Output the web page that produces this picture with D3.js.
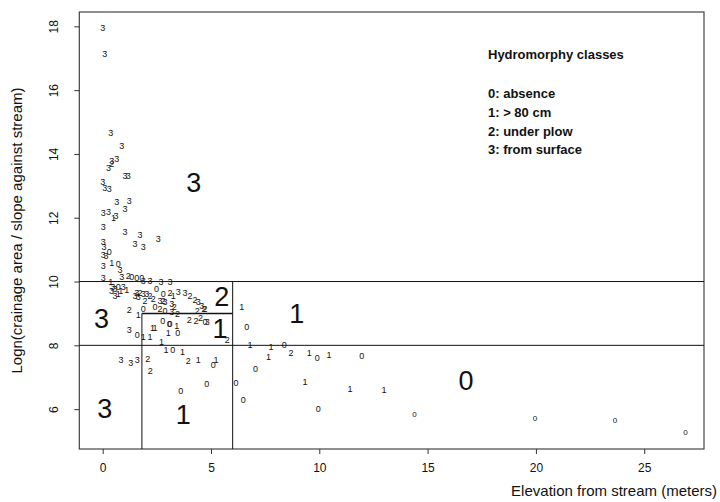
<!DOCTYPE html>
<html>
<head>
<meta charset="utf-8">
<script src="https://cdn.jsdelivr.net/npm/d3@7"></script>
<style>
  html, body { margin: 0; padding: 0; background: #fff; }
  svg { display: block; }
  text { font-family: "Liberation Sans", Arial, Helvetica, sans-serif; fill: #111; }
</style>
</head>
<body>
<svg id="chart" width="720" height="502"></svg>
<script>
// ---------- data ----------
const pointElev = [
  // class 3
  0.0,0.1,0.37,0.88,0.42,0.65,0.27,1.03,1.18,0.0,0.1,0.3,0.65,1.23,1.03,0.03,0.27,0.61,0.03,
  1.03,1.72,1.49,1.87,2.57,0.03,0.06,0.03,0.15,0.03,0.8,0.88,0.03,1.87,2.18,2.69,3.11,
  0.46,0.95,0.57,0.41,0.57,1.49,1.64,1.57,1.87,2.03,2.65,3.49,3.8,4.41,4.57,2.88,3.19,3.19,
  1.23,4.83,0.85,1.29,1.6,
  // class 0
  0.3,0.72,1.34,1.57,1.8,0.72,2.49,2.8,1.87,2.41,2.88,2.77,3.11,4.72,1.6,3.46,3.07,3.23,
  5.1,4.8,3.6,6.65,8.38,9.9,11.96,7.06,6.15,6.49,9.95,14.39,19.96,23.65,26.9,
  // class 1
  0.42,0.37,1.11,0.72,3.26,1.64,2.3,2.42,1.87,2.18,3.03,3.42,2.72,2.92,3.69,4.41,5.23,
  6.42,6.8,7.77,9.54,10.45,7.65,9.34,11.42,12.99,0.5,
  // class 2
  0.83,1.18,1.72,2.18,2.34,2.8,3.11,4.03,4.26,4.68,1.23,2.65,3.45,4.0,4.31,4.52,4.37,4.72,
  5.75,3.95,2.08,2.2,8.69,0.42,1.95,3.3
];
const pointLogRatio = [
  // class 3
  17.95,17.15,14.65,14.25,13.78,13.85,13.55,13.3,13.3,13.13,12.95,12.9,12.5,12.53,12.29,12.15,12.2,12.05,11.7,
  11.56,11.47,11.18,11.09,11.33,11.23,11.1,10.85,10.8,10.48,10.36,10.15,10.1,10.03,10.03,9.98,9.98,
  9.82,9.84,9.77,9.7,9.56,9.56,9.53,9.63,9.62,9.62,9.41,9.67,9.63,9.35,9.25,9.35,9.3,9.04,
  8.47,8.75,7.56,7.46,7.55,
  // class 0
  10.93,10.56,10.16,10.13,10.12,9.82,9.77,9.62,9.15,9.2,9.09,8.78,8.68,8.73,8.34,8.4,8.66,7.87,
  7.38,6.78,6.57,8.57,8.03,7.61,7.66,7.26,6.82,6.28,6.02,5.83,5.73,5.64,5.27,
  // class 1
  10.6,10.0,9.74,9.62,9.56,8.94,8.55,8.55,8.28,8.26,8.38,8.6,8.1,7.87,7.79,7.55,7.56,
  9.2,8.0,7.95,7.76,7.69,7.64,6.85,6.65,6.62,12.0,
  // class 2
  9.72,10.19,9.63,9.56,9.46,9.38,9.63,9.56,9.43,9.15,9.12,9.15,8.99,8.8,8.76,8.87,9.09,9.15,
  8.18,7.51,7.58,7.2,7.76,13.68,9.4,9.2
];
const pointClass = [
  3,3,3,3,3,3,3,3,3,3,3,3,3,3,3,3,3,3,3,
  3,3,3,3,3,3,3,3,3,3,3,3,3,3,3,3,3,
  3,3,3,3,3,3,3,3,3,3,3,3,3,3,3,3,3,3,
  3,3,3,3,3,
  0,0,0,0,0,0,0,0,0,0,0,0,0,0,0,0,0,0,
  0,0,0,0,0,0,0,0,0,0,0,0,0,0,0,
  1,1,1,1,1,1,1,1,1,1,1,1,1,1,1,1,1,
  1,1,1,1,1,1,1,1,1,1,1,
  2,2,2,2,2,2,2,2,2,2,2,2,2,2,2,2,2,2,
  2,2,2,2,2,2,2,2
];

// decision-tree partition (class labels of each region and the splits)
const regionLabel = ["3","2","1","1","3","3","1","0"];
const regionElev  = [4.2, 5.5, 5.42, 8.96, -0.05, 0.1, 3.72, 16.77];
const regionLog   = [13.1, 9.53, 8.53, 8.99, 8.85, 6.02, 5.83, 6.9];

const hSplitValue = [10, 8, 9];
const hSplitFrom  = [null, null, 1.81];   // null = full width
const hSplitTo    = [null, null, 6.0];
const vSplitValue = [1.81, 6.0];
const vSplitTop   = [9, 10];

const xTicks = [0, 5, 10, 15, 20, 25];
const yTicks = [6, 8, 10, 12, 14, 16, 18];

const legendTitle = "Hydromorphy classes";
const legendItems = ["0: absence", "1: > 80 cm", "2: under plow", "3: from surface"];

const xTitle = "Elevation from stream (meters)";
const yTitle = "Logn(crainage area / slope against stream)";

// ---------- drawing ----------
const svg = d3.select("#chart");
const pLeft = 79.3, pRight = 704, pTop = 12, pBottom = 449;

const x = d3.scaleLinear().domain([-1.08, 27.76]).range([pLeft, pRight]);
const y = d3.scaleLinear().domain([4.75, 18.45]).range([pBottom, pTop]);

const ink = "#111";

// box
svg.append("rect")
  .attr("x", pLeft).attr("y", pTop)
  .attr("width", pRight - pLeft).attr("height", pBottom - pTop)
  .attr("fill", "none").attr("stroke", "#333").attr("stroke-width", 1.1);

// axes (R style: outward ticks, labels parallel to axis)
const xAxis = d3.axisBottom(x).tickValues(xTicks).tickSize(5).tickPadding(9).tickFormat(d3.format("d"));
const gx = svg.append("g").attr("transform", `translate(0,${pBottom})`).call(xAxis);
gx.select(".domain").remove();
gx.selectAll("line").attr("stroke", "#333");
gx.selectAll("text").attr("font-size", 12).attr("fill", "#333")
  .style("font-family", "'Liberation Sans', Arial, sans-serif");

const yAxis = d3.axisLeft(y).tickValues(yTicks).tickSize(5).tickPadding(0).tickFormat(d3.format("d"));
const gy = svg.append("g").attr("transform", `translate(${pLeft},0)`).call(yAxis);
gy.select(".domain").remove();
gy.selectAll("line").attr("stroke", "#333");
gy.selectAll("text")
  .attr("x", 0).attr("dy", null)
  .attr("text-anchor", "middle")
  .attr("transform", "translate(-21,0) rotate(-90)")
  .attr("font-size", 12).attr("fill", "#333")
  .style("font-family", "'Liberation Sans', Arial, sans-serif");

// split lines
const xd = x.domain();
svg.append("g").selectAll("line").data(hSplitValue).join("line")
  .attr("x1", (d, i) => hSplitFrom[i] === null ? x(xd[0]) : x(hSplitFrom[i]))
  .attr("x2", (d, i) => hSplitTo[i] === null ? x(xd[1]) : x(hSplitTo[i]))
  .attr("y1", d => y(d)).attr("y2", d => y(d))
  .attr("stroke", ink).attr("stroke-width", (d, i) => i === 2 ? 1.6 : 1);

svg.append("g").selectAll("line").data(vSplitValue).join("line")
  .attr("x1", d => x(d)).attr("x2", d => x(d))
  .attr("y1", y(y.domain()[0])).attr("y2", (d, i) => y(vSplitTop[i]))
  .attr("stroke", ink).attr("stroke-width", 1);

// points drawn as their class digit
const pts = pointElev.map((e, i) => ({ e, l: pointLogRatio[i], c: pointClass[i] }));
svg.append("g").selectAll("text").data(pts).join("text")
  .attr("x", d => x(d.e)).attr("y", d => y(d.l))
  .attr("dy", "0.35em")
  .attr("text-anchor", "middle")
  .attr("font-size", d => d.e > 13 ? 8 : 9)
  .attr("fill", ink)
  .text(d => d.c);

// region labels
svg.append("g").selectAll("text").data(regionLabel).join("text")
  .attr("x", (d, i) => x(regionElev[i])).attr("y", (d, i) => y(regionLog[i]))
  .attr("dy", "0.36em")
  .attr("text-anchor", "middle")
  .attr("font-size", 27)
  .attr("fill", ink)
  .text(d => d);

// legend
const lg = svg.append("g").attr("transform", "translate(488,0)");
lg.append("text").attr("x", 0).attr("y", 59)
  .attr("font-size", 13).attr("font-weight", "bold").text(legendTitle);
lg.selectAll("text.item").data(legendItems).join("text").attr("class", "item")
  .attr("x", 0).attr("y", (d, i) => 98 + i * 18.8)
  .attr("font-size", 13).attr("font-weight", "bold").text(d => d);

// axis titles
svg.append("text").attr("x", 717).attr("y", 496)
  .attr("text-anchor", "end").attr("font-size", 15).attr("fill", "#333")
  .text(xTitle);
svg.append("text")
  .attr("transform", `translate(22,${(pTop + pBottom) / 2}) rotate(-90)`)
  .attr("text-anchor", "middle").attr("font-size", 15).attr("fill", "#333")
  .text(yTitle);
</script>
</body>
</html>
